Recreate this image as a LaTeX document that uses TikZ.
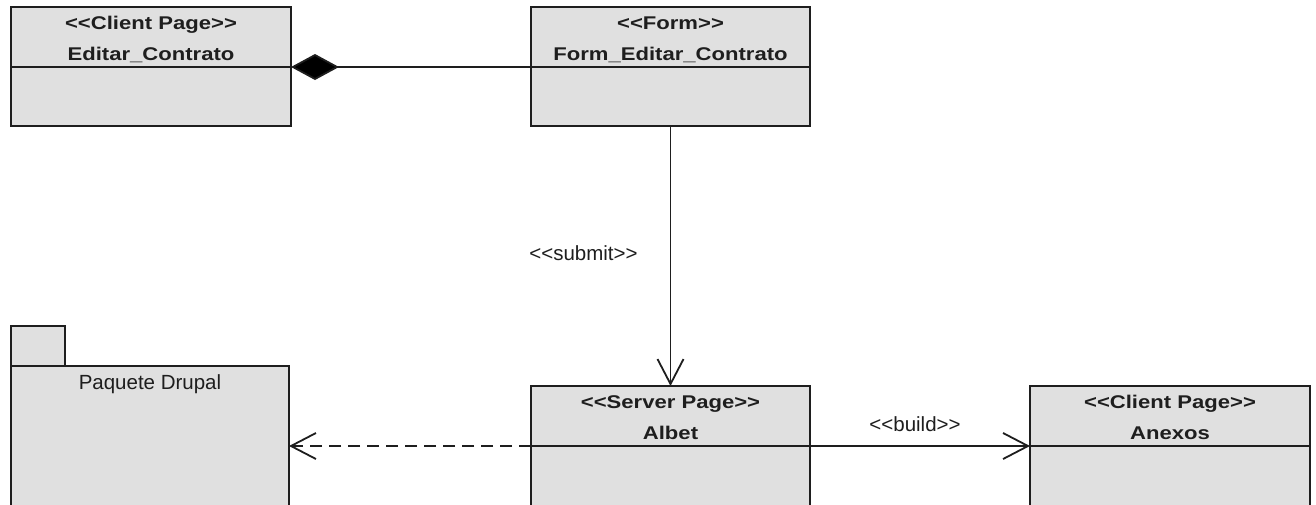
\documentclass[tikz,border=0pt]{standalone}
\usepackage{fontspec}
\newfontfamily\classfont{Liberation Sans Bold}[FakeStretch=1.2]
\newfontfamily\plainfont{Liberation Sans}
\usetikzlibrary{arrows.meta}
\definecolor{boxfill}{HTML}{E0E0E0}
\definecolor{ink}{HTML}{1E1E1E}
\tikzset{
  frame/.style={draw=ink, line width=2pt, fill=boxfill, anchor=north west,
                inner sep=0pt, outer sep=0pt},
  classtext/.style={anchor=base, inner sep=0pt, text=ink,
                    font=\classfont\fontsize{18.4pt}{20pt}\selectfont},
  lbl/.style={inner sep=0pt, text=ink,
              font=\plainfont\fontsize{20.5pt}{23pt}\selectfont},
  conn/.style={draw=ink, line width=1.8pt},
  composition/.style={conn, -{Diamond[length=48pt, width=26pt, fill=black]}},
  flow/.style={conn, -{Straight Barb[length=25pt, width=26pt]}},
  dependency/.style={flow, dash pattern=on 12pt off 7pt},
}
% a class: name, left, top, width, body height, stereotype, title
\newcommand{\umlclass}[7]{%
  \node[frame, minimum width=#4pt, minimum height=60pt] (#1) at (#2,#3) {};
  \node[frame, minimum width=#4pt, minimum height=#5pt] (#1-body) at (#1.south west) {};
  \node[classtext] (#1-st) at ([yshift=-22pt]#1.north) {<{}<#6>{}>};
  \node[classtext] (#1-nm) at ([yshift=-53pt]#1.north) {#7};
}
\begin{document}
\begin{tikzpicture}[x=1pt, y=-1pt]
  \useasboundingbox (0,0) rectangle (1316,504);
  \clip (0,0) rectangle (1316,504);
  \fill[white] (0,0) rectangle (1316,504);

  \umlclass{editar}{11}{7}{280}{59}{Client Page}{Editar\_Contrato}
  \umlclass{form}{531}{7}{279}{59}{Form}{Form\_Editar\_Contrato}
  \umlclass{albet}{531}{386}{279}{80}{Server Page}{Albet}
  \umlclass{anexos}{1030}{386}{280}{80}{Client Page}{Anexos}

  % package with its tab
  \node[frame, minimum width=54pt, minimum height=40pt] (pkgtab) at (11,326) {};
  \node[frame, minimum width=278pt, minimum height=160pt] (pkg) at (11,366) {};
  \node[lbl, anchor=base] (pkgname) at ([yshift=-23pt]pkg.north) {Paquete Drupal};

  % connectors
  \draw[composition] (form.south west) -- (editar.south east);
  \draw[flow] (form-body.south) --
    node[lbl, anchor=base east, xshift=-32pt, yshift=-4pt] (submit) {<{}<submit>{}>}
    (albet.north);
  \draw[dependency] (albet.south west) -- (albet.south west -| pkg.east);
  \draw[flow] (albet.south east) --
    node[lbl, anchor=base, xshift=-5pt, yshift=15pt] (build) {<{}<build>{}>}
    (anexos.south west);
\end{tikzpicture}
\end{document}
